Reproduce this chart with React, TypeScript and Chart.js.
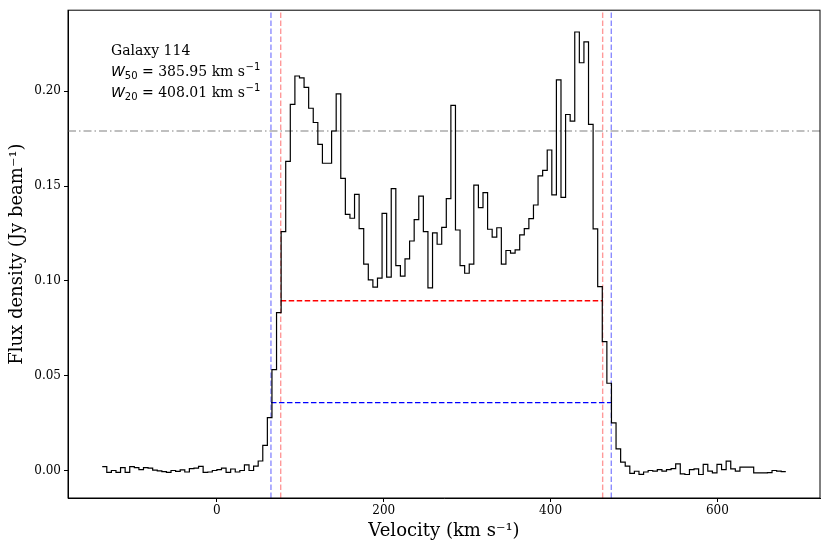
import React, { useEffect, useRef } from 'react';
import { Chart, registerables } from 'chart.js';

Chart.register(...registerables);

// channel left edges (km/s) and flux density per channel (Jy/beam)
const velocity = [
  -137.5, -132, -126.5, -121, -115.5, -110, -104.5, -99, -93.5, -88,
  -82.5, -77, -71.5, -66, -60.5, -55, -49.5, -44, -38.5, -33,
  -27.5, -22, -16.5, -11, -5.5, 0, 5.5, 11, 16.5, 22,
  27.5, 33, 38.5, 44, 49.5, 55, 60.5, 66, 71.5, 77,
  82.5, 88, 93.5, 99, 104.5, 110, 115.5, 121, 126.5, 132,
  137.5, 143, 148.5, 154, 159.5, 165, 170.5, 176, 181.5, 187,
  192.5, 198, 203.5, 209, 214.5, 220, 225.5, 231, 236.5, 242,
  247.5, 253, 258.5, 264, 269.5, 275, 280.5, 286, 291.5, 297,
  302.5, 308, 313.5, 319, 324.5, 330, 335.5, 341, 346.5, 352,
  357.5, 363, 368.5, 374, 379.5, 385, 390.5, 396, 401.5, 407,
  412.5, 418, 423.5, 429, 434.5, 440, 445.5, 451, 456.5, 462,
  467.5, 473, 478.5, 484, 489.5, 495, 500.5, 506, 511.5, 517,
  522.5, 528, 533.5, 539, 544.5, 550, 555.5, 561, 566.5, 572,
  577.5, 583, 588.5, 594, 599.5, 605, 610.5, 616, 621.5, 627,
  632.5, 638, 643.5, 649, 654.5, 660, 665.5, 671, 676.5,
];
const lastEdge = 682;

const flux = [
  0.002, -0.001, 0.0, -0.001, 0.0015, -0.001, 0.002, 0.0015, 0.0005, 0.0015,
  0.0012, 0.0002, -0.0002, -0.0006, -0.001, 0.0, -0.0005, 0.0003, -0.0008, 0.001,
  0.0012, 0.0022, -0.001, -0.0008, 0.0, 0.0005, 0.0012, -0.001, 0.0008, -0.0008,
  0.0, 0.003, 0.0, 0.0023, 0.005, 0.0133, 0.0279, 0.0532, 0.0832, 0.126,
  0.163, 0.193, 0.208, 0.207, 0.202, 0.191, 0.1835, 0.172, 0.162, 0.162,
  0.179, 0.1986, 0.154, 0.135, 0.133, 0.1456, 0.1275, 0.1088, 0.1005, 0.0967,
  0.1014, 0.1356, 0.102, 0.1486, 0.108, 0.1025, 0.1116, 0.121, 0.1323, 0.1447,
  0.126, 0.0963, 0.1253, 0.1193, 0.1282, 0.1433, 0.1925, 0.1268, 0.108, 0.104,
  0.1088, 0.1505, 0.1386, 0.1465, 0.1272, 0.123, 0.128, 0.1088, 0.116, 0.1146,
  0.1163, 0.1242, 0.1275, 0.1328, 0.14, 0.1553, 0.1582, 0.169, 0.1453, 0.206,
  0.144, 0.1877, 0.1842, 0.2312, 0.215, 0.226, 0.1825, 0.1274, 0.097, 0.068,
  0.046, 0.0251, 0.0114, 0.0044, 0.0023, -0.0015, -0.0004, -0.002, -0.0008, 0.0,
  -0.0003, 0.0005, -0.0003, 0.0005, 0.001, 0.0035, -0.0018, -0.0021, 0.0005, 0.0009,
  -0.0021, 0.0032, -0.0003, -0.0012, 0.0032, 0.0005, 0.0049, 0.0009, -0.0003, 0.0018,
  0.0018, 0.0018, -0.0012, -0.0012, -0.0012, -0.0011, 0.0, -0.0003, -0.0006,
];

const peakLevel = 0.179;
const w50Level = 0.0895;
const w20Level = 0.0358;
const w50Edges = [76.5, 462.45];
const w20Edges = [64.8, 472.8];

const xTicks = [0, 200, 400, 600];
const yTicks = [0, 0.05, 0.1, 0.15, 0.2];
const xMin = -178.5;
const xMax = 723;
const yMin = -0.0145;
const yMax = 0.2427;

const galaxyLabel = 'Galaxy 114';
const w50Value = 385.95;
const w20Value = 408.01;

const drawWidthLabel = (ctx: CanvasRenderingContext2D, x: number, y: number, sub: string, value: number) => {
  let cx = x;
  ctx.font = 'italic 14px "DejaVu Sans"';
  ctx.fillText('W', cx, y);
  cx += ctx.measureText('W').width;
  ctx.font = '10px "DejaVu Sans"';
  ctx.fillText(sub, cx, y + 3);
  cx += ctx.measureText(sub).width;
  ctx.font = '14px "DejaVu Serif"';
  const main = ` = ${value.toFixed(2)} km s`;
  ctx.fillText(main, cx, y);
  cx += ctx.measureText(main).width;
  ctx.font = '10px "DejaVu Sans"';
  ctx.fillText('\u22121', cx + 0.5, y - 6);
};

const framePlugin = {
  id: 'frame',
  afterDraw(chart: Chart) {
    const { ctx, chartArea } = chart;
    ctx.save();
    ctx.strokeStyle = '#000';
    ctx.lineWidth = 1;
    ctx.strokeRect(chartArea.left, chartArea.top, chartArea.right - chartArea.left, chartArea.bottom - chartArea.top);

    // text block in the upper left corner
    const x0 = chartArea.left + 43;
    ctx.fillStyle = '#000';
    ctx.textAlign = 'left';
    ctx.textBaseline = 'alphabetic';
    ctx.font = '14px "DejaVu Serif"';
    ctx.fillText(galaxyLabel, x0, chartArea.top + 44.5);
    drawWidthLabel(ctx, x0, chartArea.top + 65.5, '50', w50Value);
    drawWidthLabel(ctx, x0, chartArea.top + 86.5, '20', w20Value);
    ctx.restore();
  },
};

const vline = (x: number) => [{ x, y: yMin }, { x, y: yMax }];

const App: React.FC = () => {
  const chartRef = useRef<HTMLCanvasElement>(null);
  const chartInstance = useRef<Chart | null>(null);

  useEffect(() => {
    document.body.style.margin = '0';
    if (!chartRef.current) return;
    if (chartInstance.current) chartInstance.current.destroy();

    const spectrum = velocity.map((v, i) => ({ x: v, y: flux[i] }));
    spectrum.push({ x: lastEdge, y: flux[flux.length - 1] });

    const tickFont = { family: 'DejaVu Serif', size: 12 };
    const titleFont = { family: 'DejaVu Serif', size: 18 };

    chartInstance.current = new Chart(chartRef.current, {
      type: 'line',
      data: {
        datasets: [
          {
            label: 'Spectrum',
            data: spectrum,
            stepped: 'before',
            borderColor: '#000',
            borderWidth: 1.2,
          },
          {
            label: 'Peak',
            data: [{ x: xMin, y: peakLevel }, { x: xMax, y: peakLevel }],
            borderColor: '#808080',
            borderWidth: 1.2,
            borderDash: [8, 3, 1.5, 3],
          },
          {
            label: 'W50',
            data: [{ x: w50Edges[0], y: w50Level }, { x: w50Edges[1], y: w50Level }],
            borderColor: '#ff0000',
            borderWidth: 1.4,
            borderDash: [5.5, 2.5],
          },
          {
            label: 'W20',
            data: [{ x: w20Edges[0], y: w20Level }, { x: w20Edges[1], y: w20Level }],
            borderColor: '#0000ff',
            borderWidth: 1.4,
            borderDash: [5.5, 2.5],
          },
          ...w50Edges.map((e) => ({
            label: 'W50 edge',
            data: vline(e),
            borderColor: 'rgba(255,0,0,0.4)',
            borderWidth: 1.4,
            borderDash: [5.5, 2.5],
          })),
          ...w20Edges.map((e) => ({
            label: 'W20 edge',
            data: vline(e),
            borderColor: 'rgba(0,0,255,0.45)',
            borderWidth: 1.4,
            borderDash: [5.5, 2.5],
          })),
        ],
      },
      options: {
        responsive: false,
        animation: false,
        events: [],
        layout: { padding: { top: 10, right: 10, left: 0, bottom: 0 } },
        elements: { point: { radius: 0 }, line: { tension: 0 } },
        plugins: { legend: { display: false }, tooltip: { enabled: false } },
        scales: {
          x: {
            type: 'linear',
            min: xMin,
            max: xMax,
            border: { display: true, color: '#000', width: 1 },
            grid: { display: true, drawOnChartArea: false, drawTicks: true, tickLength: 4, color: '#000' },
            ticks: { font: tickFont, color: '#000', padding: 2, maxRotation: 0 },
            title: {
              display: true,
              text: 'Velocity (km s\u207B\u00B9)',
              font: titleFont,
              color: '#000',
              padding: { top: 0, bottom: 8 },
            },
            afterBuildTicks: (s: any) => {
              s.ticks = xTicks.map((value) => ({ value }));
            },
            afterFit: (s: any) => {
              s.height = 52;
            },
          },
          y: {
            type: 'linear',
            min: yMin,
            max: yMax,
            border: { display: true, color: '#000', width: 1 },
            grid: { display: true, drawOnChartArea: false, drawTicks: true, tickLength: 4, color: '#000' },
            ticks: {
              font: tickFont,
              color: '#000',
              padding: 3,
              callback: (value: any) => Number(value).toFixed(2),
            },
            title: {
              display: true,
              text: 'Flux density (Jy beam\u207B\u00B9)',
              font: titleFont,
              color: '#000',
              padding: { top: 7, bottom: 0 },
            },
            afterBuildTicks: (s: any) => {
              s.ticks = yTicks.map((value) => ({ value }));
            },
            afterFit: (s: any) => {
              s.width = 68;
            },
          },
        },
      },
      plugins: [framePlugin],
    });

    return () => {
      if (chartInstance.current) {
        chartInstance.current.destroy();
        chartInstance.current = null;
      }
    };
  }, []);

  return (
    <div style={{ width: 830, height: 550, background: '#fff' }}>
      <canvas ref={chartRef} width={830} height={550}></canvas>
    </div>
  );
};

export default App;
